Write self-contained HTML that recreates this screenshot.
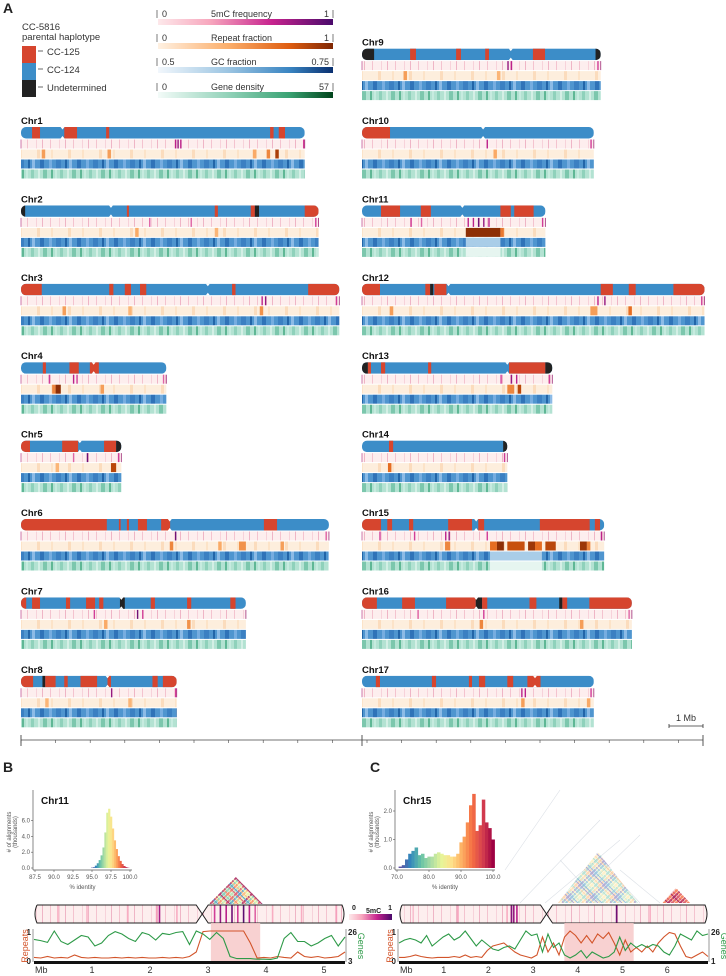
<!DOCTYPE html>
<html><head><meta charset="utf-8">
<style>
html,body{margin:0;padding:0;background:#fff;}
svg{display:block;font-family:"Liberation Sans",Arial,sans-serif;}
</style></head>
<body>
<svg id="fig" width="726" height="976" viewBox="0 0 726 976" xmlns="http://www.w3.org/2000/svg">
<defs>
<linearGradient id="g5mc"><stop offset="0" stop-color="#fde8ea"/><stop offset="0.3" stop-color="#f7a6bd"/><stop offset="0.65" stop-color="#c7238e"/><stop offset="1" stop-color="#4a0a6b"/></linearGradient>
<linearGradient id="grep"><stop offset="0" stop-color="#fff1e2"/><stop offset="0.4" stop-color="#fbae6b"/><stop offset="0.75" stop-color="#df5d10"/><stop offset="1" stop-color="#7f2704"/></linearGradient>
<linearGradient id="ggc"><stop offset="0" stop-color="#f2f7fc"/><stop offset="0.4" stop-color="#9cc5e2"/><stop offset="0.75" stop-color="#3a85c2"/><stop offset="1" stop-color="#0a3070"/></linearGradient>
<linearGradient id="ggene"><stop offset="0" stop-color="#f3fbf8"/><stop offset="0.4" stop-color="#92d2b9"/><stop offset="0.75" stop-color="#3aa273"/><stop offset="1" stop-color="#00441b"/></linearGradient>
<pattern id="pgc" width="37" height="10" patternUnits="userSpaceOnUse">
<rect width="37" height="10" fill="#4f95cf"/><rect x="3" width="4" height="10" fill="#2f73b8"/><rect x="12" width="3" height="10" fill="#76ade0"/><rect x="19" width="5" height="10" fill="#3b80c2"/><rect x="28" width="2" height="10" fill="#2265a8"/><rect x="32" width="3" height="10" fill="#8cbbe6"/></pattern>
<pattern id="pgene" width="29" height="10" patternUnits="userSpaceOnUse">
<rect width="29" height="10" fill="#b3e2d2"/><rect x="2" width="3" height="10" fill="#8fd1bb"/><rect x="9" width="2" height="10" fill="#d3efe5"/><rect x="14" width="4" height="10" fill="#7cc7ad"/><rect x="22" width="2" height="10" fill="#5fb795"/><rect x="26" width="2" height="10" fill="#c6ebdf"/></pattern>
<pattern id="pmc" width="23" height="10" patternUnits="userSpaceOnUse">
<rect width="23" height="10" fill="#fdeeee"/><rect x="4" width="1" height="10" fill="#f4c3cf"/><rect x="13" width="1" height="10" fill="#f7d2da"/><rect x="19" width="1" height="10" fill="#efb5c6"/></pattern>
<pattern id="prep" width="31" height="10" patternUnits="userSpaceOnUse">
<rect width="31" height="10" fill="#fdeedd"/><rect x="6" width="3" height="10" fill="#fbdcbd"/><rect x="20" width="2" height="10" fill="#fce3c8"/></pattern>
</defs>
<g id="root"></g>
</svg>
<script>
// ---------- Panel A data ----------
const chrNames = ["Chr1","Chr2","Chr3","Chr4","Chr5","Chr6","Chr7","Chr8","Chr9","Chr10","Chr11","Chr12","Chr13","Chr14","Chr15","Chr16","Chr17"];
const chrLengthsMb = [8.2,8.6,9.2,4.2,2.9,8.9,6.5,4.5,6.9,6.7,5.3,9.9,5.5,4.2,7.0,7.8,6.7];
const chrColumn = [0,0,0,0,0,0,0,0,1,1,1,1,1,1,1,1,1];
const chrRow = [1,2,3,4,5,6,7,8,0,1,2,3,4,5,6,7,8];
const centromereMb = [1.2,2.6,5.4,2.1,1.7,4.3,2.9,2.5,4.3,3.5,2.9,2.5,4.2,0,3.3,3.3,5.0];
// haplotype segments: [startMb, endMb, type] type 0=CC-125 (red), 2=undetermined
const hapSegments = [
 [[0.32,0.55,0],[1.25,1.62,0],[2.46,2.55,0],[7.2,7.3,0],[7.45,7.63,0]],
 [[0,0.12,2],[3.06,3.12,0],[5.6,5.69,0],[6.64,6.76,0],[6.76,6.88,2],[8.2,8.6,0]],
 [[0,0.6,0],[2.55,2.67,0],[3.0,3.18,0],[3.44,3.62,0],[6.1,6.2,0],[8.3,9.2,0]],
 [[0.63,0.72,0],[1.4,1.67,0],[1.99,2.25,0]],
 [[0,0.26,0],[1.19,1.65,0],[2.4,2.75,0],[2.75,2.9,2]],
 [[0,2.48,0],[2.83,2.88,0],[3.06,3.12,0],[3.38,3.64,0],[4.05,4.31,0],[7.02,7.4,0]],
 [[0,0.15,0],[0.32,0.55,0],[1.3,1.42,0],[1.88,2.14,0],[2.26,2.38,0],[2.86,3.0,2],[3.75,3.87,0],[4.8,4.92,0],[6.05,6.2,0]],
 [[0,0.35,0],[0.62,0.7,2],[0.7,1.0,0],[1.25,1.35,0],[1.72,2.2,0],[2.5,2.6,0],[3.8,3.95,0],[4.1,4.5,0]],
 [[0,0.35,2],[1.39,1.56,0],[2.72,2.86,0],[3.56,3.67,0],[4.94,5.29,0],[6.75,6.9,2]],
 [[0,0.81,0]],
 [[0.55,1.1,0],[1.7,1.99,0],[4.0,4.3,0],[4.4,4.96,0]],
 [[0,0.52,0],[1.83,1.97,0],[1.97,2.06,2],[2.09,2.44,0],[6.9,7.25,0],[7.71,7.91,0],[9.0,9.9,0]],
 [[0,0.17,2],[0.17,0.26,0],[0.55,0.67,0],[1.91,2.0,0],[4.25,5.3,0],[5.3,5.5,2]],
 [[0.78,0.9,0],[4.08,4.2,2]],
 [[0,0.55,0],[0.73,0.87,0],[1.36,1.48,0],[2.49,3.18,0],[3.36,3.53,0],[5.14,6.58,0],[6.73,6.88,0]],
 [[0,0.43,0],[1.16,1.53,0],[2.43,3.29,0],[3.29,3.47,2],[3.47,3.62,0],[4.84,5.04,0],[5.7,5.79,2],[5.79,5.93,0],[6.57,7.8,0]],
 [[0.4,0.52,0],[2.02,2.14,0],[3.09,3.18,0],[3.38,3.56,0],[4.2,4.37,0],[4.78,5.16,0]]
];
// 5mC hotspots [Mb, level 0..1]
const mcHot = [
 [[4.45,0.7],[4.52,0.8],[4.6,0.7],[8.15,0.6]],
 [[3.7,0.5],[4.9,0.5],[8.5,0.6]],
 [[6.95,0.7],[7.05,0.8],[9.1,0.6]],
 [[0.8,0.6],[1.5,0.7],[1.6,0.6],[4.1,0.5]],
 [[1.5,0.5],[1.9,0.9],[2.8,0.6]],
 [[4.45,0.9],[8.8,0.5]],
 [[2.1,0.6],[3.35,0.9],[3.5,0.6]],
 [[2.6,0.8],[4.45,0.6]],
 [[4.2,0.8],[4.3,0.7],[6.8,0.6]],
 [[3.6,0.7],[6.6,0.6]],
 [[1.4,0.6],[1.7,0.5],[3.05,0.7],[3.2,0.7],[3.35,0.9],[3.5,0.8],[3.65,0.7],[5.2,0.6]],
 [[6.8,0.7],[7.0,0.8],[9.8,0.6]],
 [[4.0,0.6],[4.3,0.8],[4.45,0.7],[5.4,0.6]],
 [[4.1,0.6]],
 [[0.5,0.6],[1.5,0.6],[2.4,0.7],[2.5,0.8],[3.6,0.6],[6.9,0.7]],
 [[1.6,0.5],[3.5,0.6],[7.7,0.5]],
 [[4.6,0.7],[4.7,0.7],[6.6,0.6]]
];
// repeat hotspots [startMb, endMb, level 0..1]
const repHot = [
 [[0.6,0.7,0.4],[2.5,2.6,0.4],[6.7,6.8,0.35],[7.1,7.2,0.5],[7.35,7.45,0.85]],
 [[3.3,3.4,0.35],[5.6,5.7,0.3]],
 [[1.2,1.3,0.4],[3.1,3.2,0.3],[6.9,7.0,0.45]],
 [[0.9,1.0,0.5],[1.0,1.15,0.95],[2.3,2.4,0.4]],
 [[1.0,1.1,0.3],[2.6,2.75,0.8]],
 [[4.3,4.4,0.5],[5.7,5.8,0.35],[6.3,6.5,0.45],[7.5,7.6,0.4]],
 [[2.4,2.5,0.35],[4.8,4.9,0.45]],
 [[0.7,0.8,0.3],[3.1,3.2,0.3]],
 [[1.2,1.3,0.4],[3.9,4.0,0.3]],
 [[3.8,3.9,0.35]],
 [[3.0,4.0,0.95],[4.0,4.1,0.55]],
 [[0.8,0.9,0.4],[6.6,6.8,0.4],[7.7,7.8,0.6]],
 [[4.2,4.4,0.5],[4.5,4.6,0.8]],
 [[0.75,0.85,0.6]],
 [[2.4,2.55,0.5],[3.7,3.9,0.6],[3.9,4.1,0.95],[4.2,4.7,0.75],[4.8,5.0,0.9],[5.0,5.2,0.6],[5.3,5.6,0.8],[6.3,6.5,0.9],[6.5,6.6,0.5]],
 [[3.4,3.5,0.5],[6.3,6.4,0.4]],
 [[4.6,4.7,0.4],[6.5,6.6,0.35]]
];
// GC low regions [startMb,endMb]
const gcLow = [[],[],[],[],[],[],[],[],[],[],[[3.0,4.0]],[],[],[],[[3.7,5.2]],[],[]];

// ---------- Panel B/C data ----------
const histB_x = [95,95.25,95.5,95.75,96,96.25,96.5,96.75,97,97.25,97.5,97.75,98,98.25,98.5,98.75,99,99.25,99.5,99.75];
const histB_y = [0.05,0.1,0.3,0.6,1.0,1.6,2.6,4.5,7.0,7.5,6.5,5.0,3.5,2.4,1.5,0.9,0.5,0.25,0.1,0.03];
const histC_x = [71,72,73,74,75,76,77,78,79,80,81,82,83,84,85,86,87,88,89,90,91,92,93,94,95,96,97,98,99,100];
const histC_y = [0.05,0.1,0.3,0.5,0.6,0.72,0.45,0.5,0.35,0.4,0.4,0.5,0.55,0.5,0.45,0.45,0.4,0.4,0.5,0.9,1.1,1.6,2.2,2.6,1.3,1.5,2.4,1.6,1.4,1.0];
const histB_ticks = [87.5,90.0,92.5,95.0,97.5,100.0];
const histC_ticks = [70.0,80.0,90.0,100.0];
const histB_yticks = [0,2,4,6];
const histC_yticks = [0,1,2];
const linesB_repeats = [0.12,0.1,0.15,0.1,0.12,0.1,0.2,0.12,0.1,0.12,0.1,0.1,0.12,0.1,0.12,0.1,0.12,0.1,0.1,0.12,0.1,0.12,0.1,0.15,0.3,0.98,1.0,1.0,1.0,1.0,1.0,1.0,0.6,0.1,0.12,0.1,0.15,0.12,0.1,0.3,0.15,0.12,0.15,0.1,0.12,0.15,0.3];
const linesB_genes = [0.72,0.68,0.62,1.0,0.65,0.55,0.7,0.85,0.8,0.5,0.6,0.85,0.98,0.9,0.75,0.65,0.95,0.88,0.7,0.92,0.88,0.95,0.98,0.55,1.0,0.9,0.72,0.95,0.75,0.15,0.08,0.08,0.08,0.06,0.06,0.05,0.1,0.75,0.95,0.65,0.65,0.5,0.6,0.75,0.85,0.5,0.8];
const linesC_repeats = [0.12,0.12,0.15,0.2,0.15,0.12,0.1,0.12,0.12,0.12,0.15,0.12,0.2,0.12,0.15,0.12,0.35,0.5,0.55,0.6,0.45,0.3,0.2,0.15,0.1,0.2,0.8,0.3,0.6,0.2,0.8,1.0,0.85,0.6,0.85,0.6,0.9,0.75,0.95,0.6,0.2,0.7,0.3,0.45,0.3,0.5,0.3,0.6,0.8,0.95,0.9,0.5,0.15,0.1,0.2,0.3,0.15];
const linesC_genes = [0.6,0.7,0.75,0.7,0.6,0.85,0.5,0.65,0.8,0.9,0.7,0.8,1.0,0.75,0.5,0.7,0.55,0.4,0.35,0.45,0.5,0.4,0.7,1.0,0.85,0.9,0.3,0.9,0.45,0.6,0.2,0.1,0.2,0.35,0.1,0.3,0.2,0.1,0.15,0.3,0.8,0.35,0.6,0.45,0.55,0.45,0.55,0.5,0.3,0.2,0.5,0.9,0.8,0.7,1.0,0.85,0.9];
const mbTicksB = [1,2,3,4,5];
const mbTicksC = [1,2,3,4,5,6];
const mcStripesB = [[0.4,0.3],[0.9,0.25],[1.6,0.3],[2.1,0.35],[2.15,0.75],[2.45,0.3],[3.1,0.6],[3.2,0.8],[3.3,0.7],[3.4,0.9],[3.5,0.6],[3.6,0.95],[3.7,0.7],[3.8,0.5],[4.1,0.3],[4.6,0.3],[5.2,0.35]];
const mcStripesC = [[0.3,0.2],[1.3,0.35],[2.4,0.3],[2.5,0.85],[2.55,0.8],[2.62,0.7],[4.85,0.9],[5.6,0.3],[6.9,0.85]];

// ---------- helpers ----------
const NS="http://www.w3.org/2000/svg";
const root=document.getElementById('root');
function mk(tag,attrs,parent){const e=document.createElementNS(NS,tag);for(const k in attrs)e.setAttribute(k,attrs[k]);(parent||root).appendChild(e);return e;}
function txt(x,y,s,size,extra,parent){const e=mk('text',Object.assign({x:x,y:y,'font-size':size,fill:'#222'},extra||{}),parent);e.textContent=s;return e;}
function interp(stops,t){t=Math.max(0,Math.min(1,t));const n=stops.length-1;const i=Math.min(n-1,Math.floor(t*n));const f=t*n-i;const a=stops[i],b=stops[i+1];const h=c=>[parseInt(c.substr(1,2),16),parseInt(c.substr(3,2),16),parseInt(c.substr(5,2),16)];const A=h(a),B=h(b);return 'rgb('+A.map((v,k)=>Math.round(v+(B[k]-v)*f)).join(',')+')';}
const mcStops=['#fde8ea','#f7a6bd','#c7238e','#4a0a6b'];
const repStops=['#fff1e2','#fbae6b','#df5d10','#7f2704'];
const spectral=['#5e4fa2','#3288bd','#66c2a5','#abdda4','#e6f598','#fee08b','#fdae61','#f46d43','#d53e4f','#9e0142'];

// ---------- Panel labels ----------
let t;
t=txt(3,13,'A',14,{'font-weight':'bold'});
t=txt(3,772,'B',14,{'font-weight':'bold'});
t=txt(370,772,'C',14,{'font-weight':'bold'});

// ---------- Legend ----------
const leg=mk('g',{});
txt(22,30,'CC-5816',9.5,{fill:'#333'},leg);txt(22,40,'parental haplotype',9.5,{fill:'#333'},leg);
mk('rect',{x:22,y:46,width:14,height:17,fill:'#d6452e'},leg);
mk('rect',{x:22,y:63,width:14,height:17,fill:'#3c8dc8'},leg);
mk('rect',{x:22,y:80,width:14,height:17,fill:'#222'},leg);
[['CC-125',55],['CC-124',73],['Undetermined',91]].forEach(([s,y])=>{mk('line',{x1:38,x2:43,y1:y-4,y2:y-4,stroke:'#444','stroke-width':0.8},leg);txt(47,y,s,9.5,{fill:'#333'},leg);});
const cbars=[['5mC frequency','0','1','g5mc',12],['Repeat fraction','0','1','grep',36],['GC fraction','0.5','0.75','ggc',60],['Gene density','0','57','ggene',85]];
cbars.forEach(([name,lo,hi,g,y])=>{const cg=mk('g',{});
 mk('rect',{x:158,y:y+7,width:175,height:6,fill:'url(#'+g+')'},cg);
 mk('line',{x1:157,x2:157,y1:y-2,y2:y+6,stroke:'#444','stroke-width':0.7},cg);mk('line',{x1:333,x2:333,y1:y-2,y2:y+6,stroke:'#444','stroke-width':0.7},cg);
 txt(162,y+5,lo,9,{fill:'#333'},cg);txt(211,y+5,name,9,{fill:'#333'},cg);txt(329,y+5,hi,9,{fill:'#333','text-anchor':'end'},cg);});

// ---------- Chromosomes ----------
const pxPerMb=34.6;const colX=[21,362];
function rowBase(c,r){return c===0?(124+(r-1)*78.4):(45.6+r*78.4);}
chrNames.forEach((name,i)=>{
 const x0=colX[chrColumn[i]];const L=rowBase(chrColumn[i],chrRow[i]);const w=chrLengthsMb[i]*pxPerMb;
 const xs=mb=>x0+mb*pxPerMb;
 const g=mk('g',{});
 const lab=txt(x0,L,name,9.5,{'font-weight':'bold',fill:'#111'},g);
 const cid='clip'+i;const cp=mk('clipPath',{id:cid},g);mk('rect',{x:x0,y:L+3,width:w,height:11.5,rx:5});cp.appendChild(root.lastChild);
 const hb=mk('g',{'clip-path':'url(#'+cid+')'},g);
 mk('rect',{x:x0,y:L+3,width:w,height:11.5,fill:'#3c8dc8'},hb);
 hapSegments[i].forEach(s=>{const r=mk('rect',{x:xs(s[0]),y:L+3,width:(s[1]-s[0])*pxPerMb,height:11.5,fill:s[2]===2?'#222':'#d6452e'},hb);});
 if(centromereMb[i]>0){mk('path',{d:`M${xs(centromereMb[i])-2},${L+3} l2,2.5 l2,-2.5 z M${xs(centromereMb[i])-2},${L+14.5} l2,-2.5 l2,2.5 z`,fill:'#fff'},g);}
 const rows=[['methylation-track','url(#pmc)',L+15.5],['repeat-track','url(#prep)',L+25.5],['gc-track','url(#pgc)',L+35.5],['gene-track','url(#pgene)',L+45.5]];
 rows.forEach(([nm,fill,y])=>{const r=mk('rect',{x:x0,y:y,width:w,height:9,fill:fill},g);});
 mk('line',{x1:x0,x2:x0,y1:L+15.5,y2:L+24.5,stroke:'#c25a9a','stroke-width':0.8},g);mk('line',{x1:x0+w,x2:x0+w,y1:L+15.5,y2:L+24.5,stroke:'#a0307a','stroke-width':0.8},g);
 mcHot[i].forEach(h=>{const r=mk('rect',{x:xs(h[0]),y:L+15.5,width:1.4,height:9,fill:interp(mcStops,h[1])},g);});
 repHot[i].forEach(h=>{const r=mk('rect',{x:xs(h[0]),y:L+25.5,width:(h[1]-h[0])*pxPerMb,height:9,fill:interp(repStops,h[2])},g);});
 gcLow[i].forEach(h=>{const r=mk('rect',{x:xs(h[0]),y:L+35.5,width:(h[1]-h[0])*pxPerMb,height:9,fill:'#a9cde8'},g);
  const r2=mk('rect',{x:xs(h[0]),y:L+45.5,width:(h[1]-h[0])*pxPerMb,height:9,fill:'#e6f5f0'},g);});
});
// scale bar + axis
const sb=mk('g',{});
mk('path',{d:'M669,724 v4 M669,726 H703 M703,724 v4',stroke:'#333','stroke-width':0.8,fill:'none'},sb);txt(686,721,'1 Mb',9,{'text-anchor':'middle',fill:'#333'},sb);
const ax=mk('g',{});
mk('line',{x1:21,x2:703,y1:740,y2:740,stroke:'#444','stroke-width':0.8},ax);
for(let k=0;k<=20;k++){const x=21+k*pxPerMb;if(x>704)break;mk('line',{x1:x,x2:x,y1:740,y2:743,stroke:'#444','stroke-width':0.6},ax);}
[21,362,703].forEach(x=>mk('line',{x1:x,x2:x,y1:735,y2:746,stroke:'#444','stroke-width':0.9},ax));

// ---------- Panel B / C ----------
function panel(o){
 const g=mk('g',{});
 const hg=mk('g',{},g);
 const hx=v=>o.hx0+(v-o.hmin)/(o.hmax-o.hmin)*(o.hx1-o.hx0);const hy=v=>868-v*o.hyk;
 const bw=(hx(o.hxs[1])-hx(o.hxs[0]));
 o.hxs.forEach((v,k)=>{const r=mk('rect',{x:hx(v)-bw/2,y:hy(o.hys[k]),width:bw+0.3,height:868-hy(o.hys[k]),fill:interp(spectral,(v-o.hxs[0])/(o.hxs[o.hxs.length-1]-o.hxs[0]))},hg);});
 mk('line',{x1:o.hx0-2,x2:o.hx1+2,y1:870,y2:870,stroke:'#555','stroke-width':0.7},hg);mk('line',{x1:o.hx0-2,x2:o.hx0-2,y1:790,y2:870,stroke:'#555','stroke-width':0.7},hg);
 o.xt.forEach(v=>{mk('line',{x1:hx(v),x2:hx(v),y1:870,y2:872,stroke:'#555','stroke-width':0.6},hg);txt(hx(v),879,v.toFixed(1),6,{'text-anchor':'middle',fill:'#555'},hg);});
 o.yt.forEach(v=>{mk('line',{x1:o.hx0-4,x2:o.hx0-2,y1:hy(v),y2:hy(v),stroke:'#555','stroke-width':0.6},hg);txt(o.hx0-5,hy(v)+2,v.toFixed(1),6,{'text-anchor':'end',fill:'#555'},hg);});
 txt((o.hx0+o.hx1)/2,889,'% identity',6,{'text-anchor':'middle',fill:'#555'},hg);
 txt(0,0,'# of alignments',6,{'text-anchor':'middle',fill:'#555',transform:`translate(${o.hx0-24},832) rotate(-90)`},hg);
 txt(0,0,'(thousands)',6,{'text-anchor':'middle',fill:'#555',transform:`translate(${o.hx0-18},832) rotate(-90)`},hg);
 txt(o.hx0+6,804,o.chr,10,{'font-weight':'bold',fill:'#111'},hg);
 const X=mb=>o.x0+mb*o.k;
 const ig=mk('g',{},g);
 const c=X(o.cen);
 const clid=o.name+'clip';const cp=mk('clipPath',{id:clid},ig);mk('path',{d:`M${o.x0+3},905 H${c-6} L${c},914 L${c+6},905 H${o.xe-3} Q${o.xe+1},914 ${o.xe-3},923 H${c+6} L${c},914 L${c-6},923 H${o.x0+3} Q${o.x0-1},914 ${o.x0+3},905 Z`},cp);
 const ic=mk('g',{'clip-path':'url(#'+clid+')'},ig);
 mk('rect',{x:o.x0-2,y:905,width:o.xe-o.x0+4,height:18,fill:'url(#pmc)'},ic);
 o.stripes.forEach(s=>{const r=mk('rect',{x:X(s[0]),y:905,width:1.6,height:18,fill:interp(mcStops,s[1])},ic);});
 mk('path',{d:`M${o.x0+3},905 H${c-6} L${c+6},923 H${o.xe-3} Q${o.xe+1},914 ${o.xe-3},905 H${c+6} L${c-6},923 H${o.x0+3} Q${o.x0-1},914 ${o.x0+3},905`,fill:'none',stroke:'#222','stroke-width':1},ig);
 const sh=mk('rect',{x:X(o.sh[0]),y:923,width:(o.sh[1]-o.sh[0])*o.k,height:38,fill:'#f7c9c9',opacity:0.85},g);
 const ly=v=>961-v*30;const n=o.rep.length;const lx=k=>o.x0+k*(o.xe-o.x0)/(n-1);
 const rp=mk('polyline',{points:o.rep.map((v,k)=>lx(k)+','+ly(v)).join(' '),fill:'none',stroke:'#d2542a','stroke-width':1.1},g);
 const gp=mk('polyline',{points:o.gen.map((v,k)=>lx(k)+','+ly(v)).join(' '),fill:'none',stroke:'#2e9a48','stroke-width':1.1},g);
 mk('line',{x1:o.x0-1,x2:o.x0-1,y1:929,y2:962,stroke:'#999','stroke-width':1},g);mk('line',{x1:o.xe+1,x2:o.xe+1,y1:929,y2:962,stroke:'#999','stroke-width':1},g);
 txt(o.x0-3,935,'1',8,{'text-anchor':'end','font-weight':'bold'},g);txt(o.x0-3,964,'0',8,{'text-anchor':'end','font-weight':'bold'},g);
 txt(o.xe+3,935,'26',8,{'font-weight':'bold'},g);txt(o.xe+3,964,o.gmin,8,{'font-weight':'bold'},g);
 txt(0,0,'Repeats',9,{'text-anchor':'middle',fill:'#d2542a',transform:`translate(${o.x0-6},946) rotate(-90)`},g);
 txt(0,0,'Genes',9,{'text-anchor':'middle',fill:'#2e9a48',transform:`translate(${o.xe+13},946) rotate(90)`},g);
 const ab=mk('rect',{x:o.x0,y:961,width:o.xe-o.x0,height:3,fill:'#111'},g);
 txt(o.x0+1,973,'Mb',9,{fill:'#333'},g);
 o.ticks.forEach(v=>txt(X(v),973,String(v),9,{'text-anchor':'middle',fill:'#333'},g));
 return {g,X,c};
}
const pB=panel({name:'panel-b',chr:'Chr11',hx0:35,hx1:130,hmin:87.5,hmax:100,hyk:7.9,hxs:histB_x,hys:histB_y,xt:histB_ticks,yt:histB_yticks,x0:34,xe:345,k:58,cen:2.9,sh:[3.05,3.9],rep:linesB_repeats,gen:linesB_genes,gmin:'3',ticks:mbTicksB,stripes:mcStripesB});
const pC=panel({name:'panel-c',chr:'Chr15',hx0:397,hx1:493,hmin:70,hmax:100,hyk:28.5,hxs:histC_x,hys:histC_y,xt:histC_ticks,yt:histC_yticks,x0:399,xe:708,k:44.7,cen:3.3,sh:[3.7,5.25],rep:linesC_repeats,gen:linesC_genes,gmin:'1',ticks:mbTicksC,stripes:mcStripesC});

function tri(cx,apexY,half,baseY,cols,nm,op){const g=mk('g',{});
 const id=nm+'cl';const cp=mk('clipPath',{id:id},g);mk('path',{d:`M${cx},${apexY} L${cx+half},${baseY} L${cx-half},${baseY} Z`},cp);
 const cg=mk('g',{'clip-path':'url(#'+id+')',opacity:op},g);
 const step=4;let k=0;for(let a=-2*half;a<=2*half;a+=step){mk('line',{x1:cx+a,y1:baseY,x2:cx+a+(baseY-apexY),y2:apexY,stroke:cols[k%cols.length],'stroke-width':2},cg);mk('line',{x1:cx+a,y1:baseY,x2:cx+a-(baseY-apexY),y2:apexY,stroke:cols[(k+3)%cols.length],'stroke-width':1.2},cg);k++;}
 return g;}
tri(pB.X(3.48),877,27,904,['#66c2a5','#f46d43','#abdda4','#d53e4f','#3288bd','#fdae61','#e6f598','#9e0142'],'self-alignment-triangle-b',0.75);
const dp=mk('g',{opacity:0.35});
[[520,903,600,820],[545,903,620,840],[600,903,560,860],[640,903,600,860],[570,903,640,835],[660,903,620,870],[505,870,560,790]].forEach(l=>mk('line',{x1:l[0],y1:l[1],x2:l[2],y2:l[3],stroke:'#9aa7b8','stroke-width':0.6},dp));
tri(pC.X(4.45),852,40,903,['#3288bd','#abdda4','#fee08b','#66c2a5','#fdae61','#5e4fa2'],'self-alignment-triangle-c',0.45);
tri(pC.X(6.2),888,14,903,['#d53e4f','#f46d43','#9e0142'],'self-alignment-triangle-c2',0.8);
const ml=mk('g',{});
mk('rect',{x:349,y:914,width:43,height:6,fill:'url(#g5mc)'},ml);
txt(352,910,'0',7,{'font-weight':'bold'},ml);txt(392,910,'1',7,{'font-weight':'bold','text-anchor':'end'},ml);txt(366,913,'5mC',7,{'font-weight':'bold'},ml);
</script>
</body></html>
